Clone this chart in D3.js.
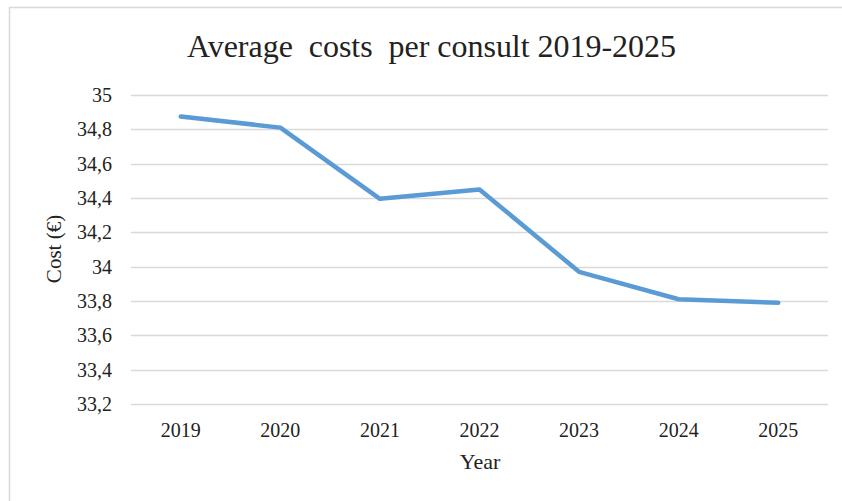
<!DOCTYPE html>
<html>
<head>
<meta charset="utf-8">
<script src="https://cdn.jsdelivr.net/npm/d3@7"></script>
<style>
  body { margin: 0; background: #fff; }
  svg { display: block; }
  text { font-family: "Liberation Serif", "Times New Roman", serif; fill: #222; }
</style>
</head>
<body>
<svg id="chart"></svg>
<script>
const years = ["2019", "2020", "2021", "2022", "2023", "2024", "2025"];
const costs = [34.875, 34.81, 34.395, 34.45, 33.97, 33.81, 33.79];
const yTicks = [33.2, 33.4, 33.6, 33.8, 34, 34.2, 34.4, 34.6, 34.8, 35];

const width = 842;
const height = 501;
const margin = {top: 95, right: 14, bottom: 97, left: 131};

const svg = d3.select("#chart").attr("width", width).attr("height", height);

// chart frame
svg.append("rect")
  .attr("x", 9.5).attr("y", 7.5)
  .attr("width", 860).attr("height", 520)
  .attr("fill", "#fff")
  .attr("stroke", "#d9d9d9")
  .attr("stroke-width", 1.5);

const x = d3.scaleBand().domain(years)
  .range([margin.left, width - margin.right]);
const y = d3.scaleLinear().domain([33.2, 35])
  .range([height - margin.bottom, margin.top]);

const fmt = d => String(+d.toFixed(1)).replace(".", ",");

// gridlines
svg.append("g")
  .selectAll("line")
  .data(yTicks)
  .join("line")
  .attr("x1", margin.left).attr("x2", width - margin.right)
  .attr("y1", d => Math.round(y(d)) + 0.5).attr("y2", d => Math.round(y(d)) + 0.5)
  .attr("stroke", "#d9d9d9")
  .attr("stroke-width", 1.5);

// y labels
svg.append("g")
  .selectAll("text")
  .data(yTicks)
  .join("text")
  .attr("x", 112)
  .attr("y", d => y(d))
  .attr("dy", "0.35em")
  .attr("text-anchor", "end")
  .style("font-size", "20px")
  .text(fmt);

// x labels
svg.append("g")
  .selectAll("text")
  .data(years)
  .join("text")
  .attr("x", d => x(d) + x.bandwidth() / 2)
  .attr("y", 437)
  .attr("text-anchor", "middle")
  .style("font-size", "20px")
  .text(d => d);

// line
const line = d3.line()
  .x((d, i) => x(years[i]) + x.bandwidth() / 2)
  .y(d => y(d));

svg.append("path")
  .datum(costs)
  .attr("d", line)
  .attr("fill", "none")
  .attr("stroke", "#5b9bd5")
  .attr("stroke-width", 4.5)
  .attr("stroke-linecap", "round")
  .attr("stroke-linejoin", "round");

// title
svg.append("text")
  .attr("x", 187).attr("y", 57)
  .attr("textLength", 489)
  .attr("lengthAdjust", "spacing")
  .style("font-size", "32px")
  .style("white-space", "pre")
  .text("Average  costs  per consult 2019-2025");

// axis titles
svg.append("text")
  .attr("transform", "translate(61,249) rotate(-90)")
  .attr("text-anchor", "middle")
  .style("font-size", "21px")
  .text("Cost (€)");

svg.append("text")
  .attr("x", 480).attr("y", 469)
  .attr("text-anchor", "middle")
  .style("font-size", "22px")
  .text("Year");
</script>
</body>
</html>
